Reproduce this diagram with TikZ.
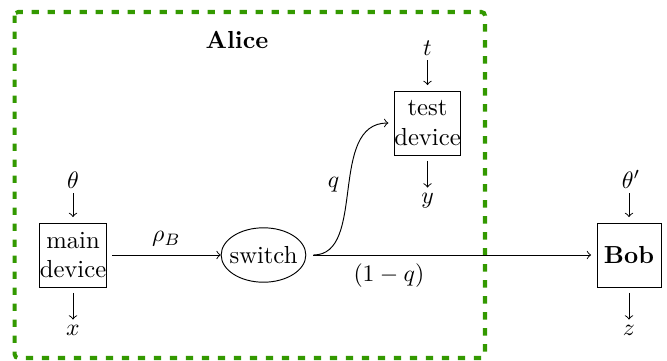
\documentclass[tikz,border=0pt]{standalone}
\usepackage{amsmath}
\usetikzlibrary{shapes.geometric,calc}
\definecolor{alicegreen}{RGB}{51,153,0}
\begin{document}
\fontsize{10.4pt}{12.5pt}\selectfont
\begin{tikzpicture}[x=0.42194pt,y=-0.42194pt,
  devbox/.style={draw,rectangle,inner sep=0pt,minimum width=27pt,minimum height=27pt,
    align=center,outer sep=2.5pt},
  switchnode/.style={draw,ellipse,inner xsep=-1.7pt,inner ysep=4.45pt},
  io/.style={inner sep=2pt,anchor=base},
  flow/.style={->},
  frame/.style={draw=alicegreen,line width=1.7pt,dash pattern=on 3.1pt off 3.65pt,
    rounded corners=1.5pt}]
\useasboundingbox (0,0) rectangle (667,360);

% Alice's laboratory
\draw[frame] (14.7,12) rectangle (485,358);
\node[font=\bfseries] (alice) at (237,40) {Alice};

% devices
\node[devbox] (main) at (73,255) {main\\device};
\node[switchnode] (sw) at (263.5,255) {switch};
\node[devbox] (test) at (427.5,123) {test\\device};
\node[devbox] (bob) at (629,255) {\textbf{Bob}};

% inputs and outputs
\node[io] (th) at (73,188) {$\theta$};
\node[io] (xo) at (73,335) {$x$};
\node[io] (tt) at (427.5,55) {$t$};
\node[io] (yo) at (427.5,203) {$y$};
\node[io] (thp) at (631,188) {$\theta'$};
\node[io] (zo) at (629,335) {$z$};

\draw[flow] (th) -- (main);
\draw[flow] (main) -- (xo);
\draw[flow] (tt) -- (test);
\draw[flow] (test) -- (yo);
\draw[flow] (thp.south -| bob.north) -- (bob.north);
\draw[flow] (bob) -- (zo.north -| bob.south);

% state distribution
\draw[flow] (main) -- node[above] {$\rho_B$} (sw);
\draw[flow,shorten <=3pt] (sw.east) to[out=0,in=180] node[left,pos=0.52] {$q$} (test.west);
\draw[flow,shorten <=3pt] (sw.east) -- node[below,pos=0.29] {$(1-q)$} (bob.west);
\end{tikzpicture}
\end{document}
